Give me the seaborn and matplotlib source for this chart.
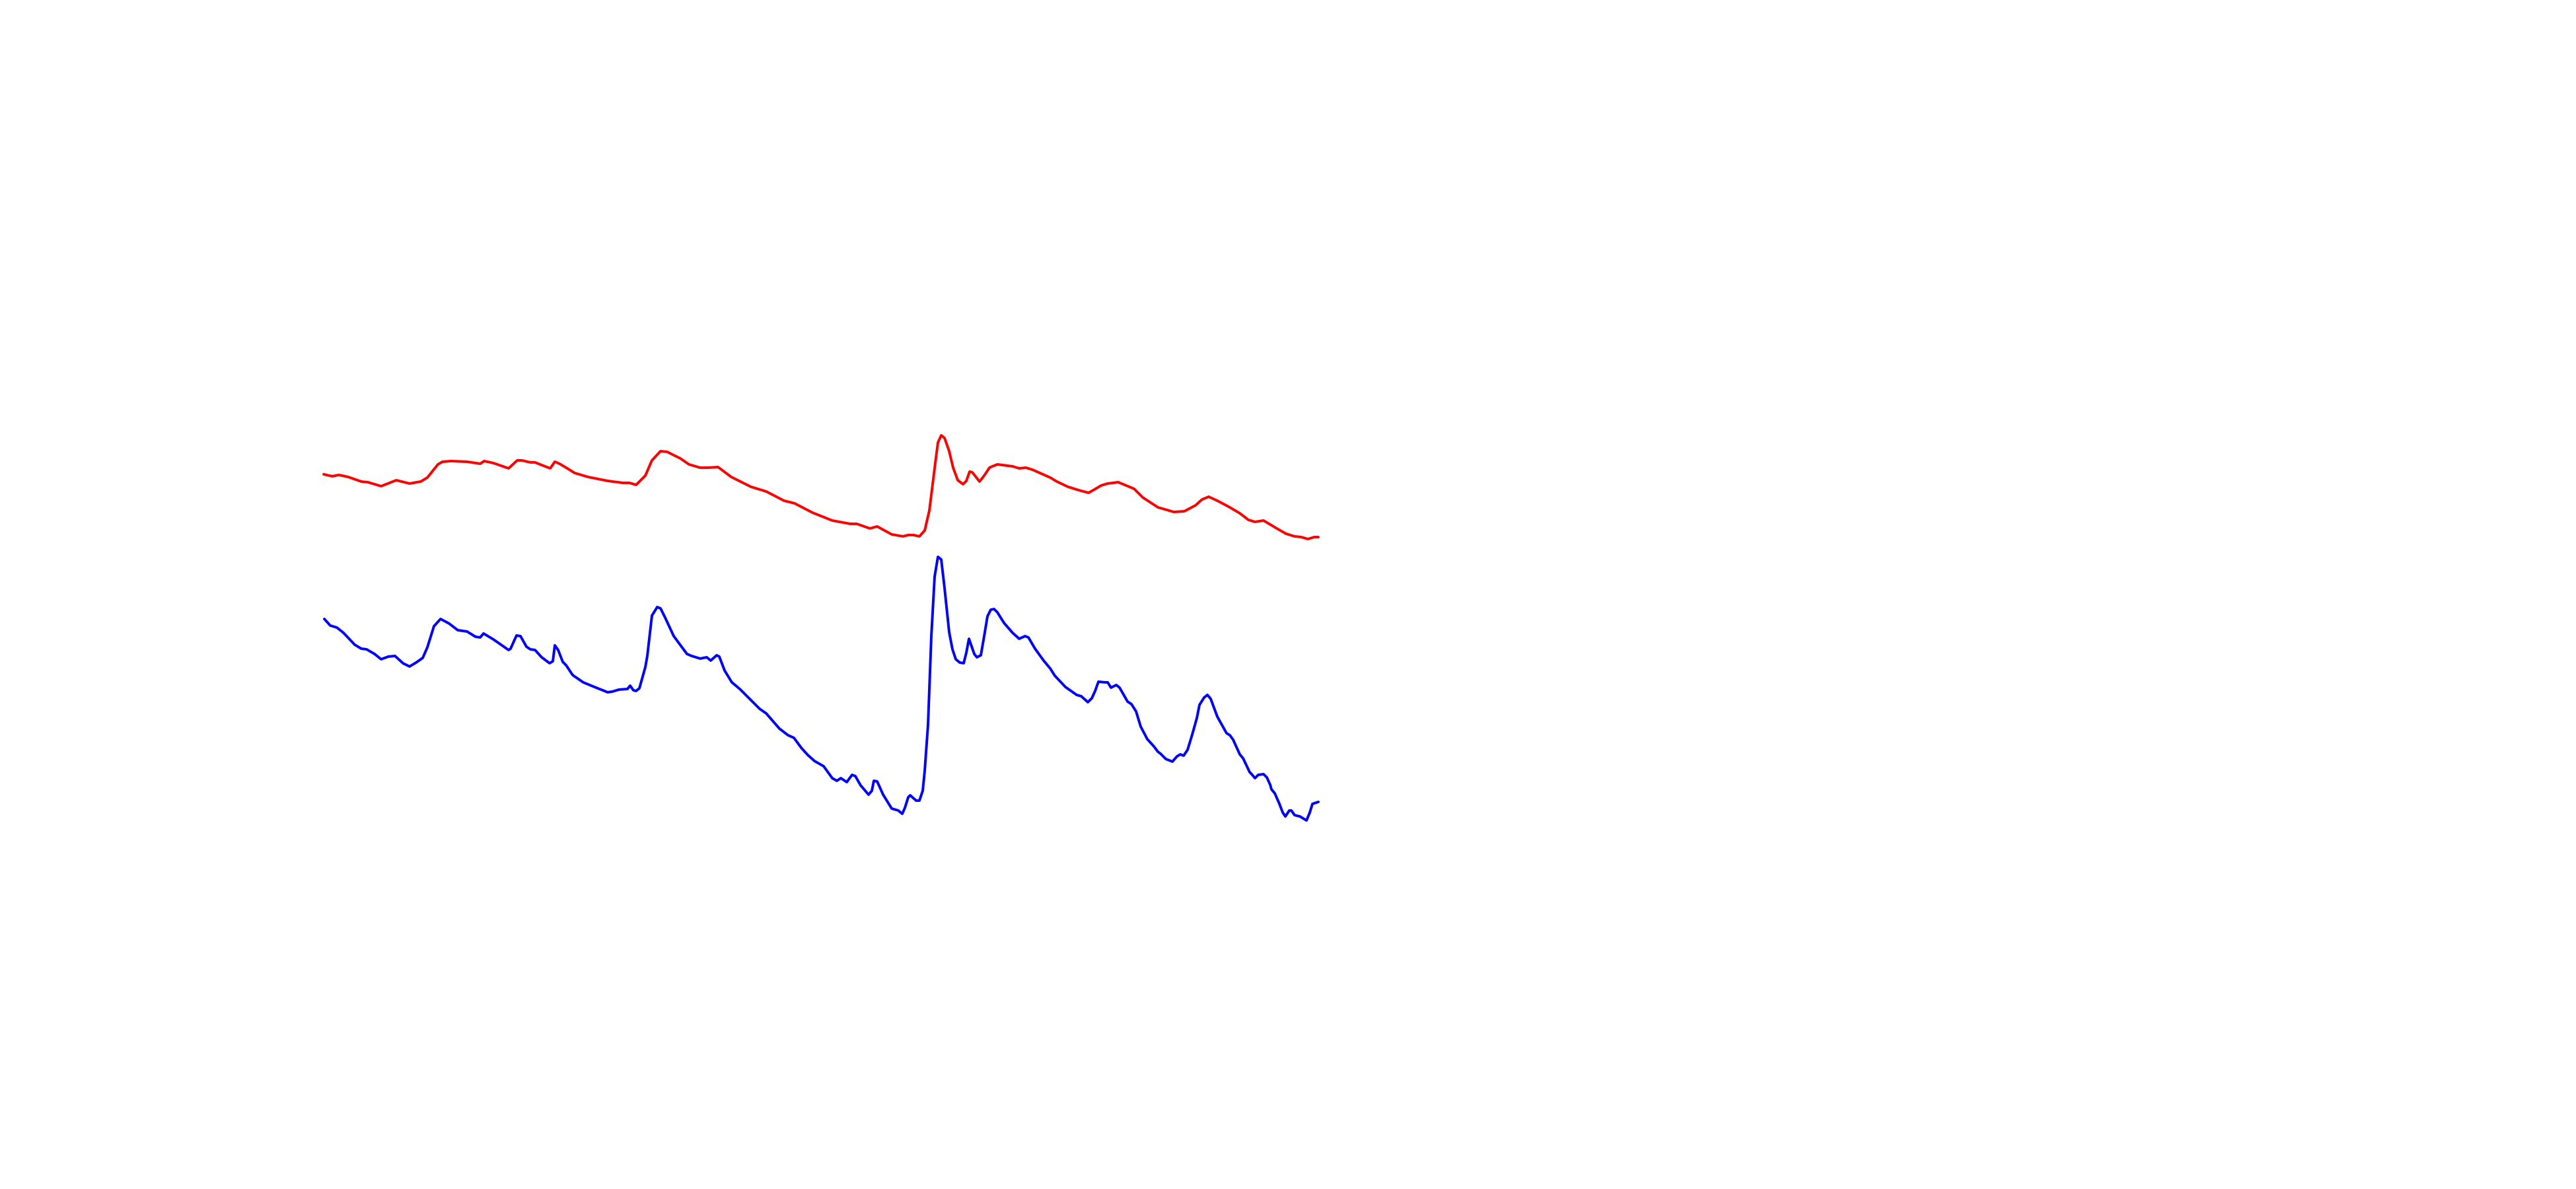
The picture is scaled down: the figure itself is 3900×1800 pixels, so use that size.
import matplotlib
matplotlib.use("Agg")
import matplotlib.pyplot as plt
import seaborn as sns
import pandas as pd

# Red trace: sample positions and amplitudes
red_t = [0, 13, 23, 37, 57, 67, 87, 110, 130, 147, 157, 173, 180, 193, 217, 237, 243, 257,
         280, 293, 300, 313, 320, 330, 343, 350, 357, 367, 380, 400, 430, 453, 463, 473, 487,
         497, 510, 520, 540, 553, 570, 583, 597, 617, 647, 670, 697, 713, 740, 770, 797, 807,
         827, 838, 860, 877, 885, 893, 902, 910, 917, 927, 930, 935, 940, 947, 953, 960, 968,
         973, 978, 982, 993, 1000, 1008, 1010, 1020, 1043, 1053, 1063, 1073, 1100, 1110, 1127,
         1143, 1158, 1167, 1177, 1187, 1203, 1227, 1240, 1263, 1287, 1303, 1320, 1330, 1340,
         1353, 1370, 1387, 1400, 1410, 1423, 1443, 1457, 1470, 1480, 1490, 1500, 1506]
red_v = [582, 579, 581, 578, 571, 570, 564, 573, 568, 571, 577, 597, 601, 602, 601, 598, 602, 599,
         591, 603, 603, 600, 600, 596, 591, 601, 598, 592, 584, 578, 572, 569, 569, 566, 580,
         603, 617, 616, 606, 597, 592, 592, 593, 578, 563, 556, 542, 538, 524, 512, 507, 507,
         500, 503, 491, 488, 490, 490, 488, 497, 527, 607, 630, 641, 637, 617, 592, 573, 567,
         572, 586, 585, 571, 580, 592, 593, 597, 594, 591, 592, 589, 577, 571, 563,
         558, 554, 559, 565, 568, 570, 560, 547, 532, 525, 526, 535, 544, 548,
         542, 533, 523, 513, 510, 512, 500, 492, 488, 487, 484, 487, 487]

# Blue trace: sample positions and amplitudes
blue_t = [1, 10, 20, 30, 47, 57, 65, 77, 87, 98, 108, 120, 130, 140, 150, 157, 167, 177, 190,
          203, 217, 230, 237, 242, 257, 280, 283, 292, 298, 307, 313, 320, 330, 342, 347, 350,
          355, 362, 367, 377, 393, 410, 430, 437, 447, 460, 464, 469, 473, 478, 487, 490, 497,
          505, 510, 517, 530, 550, 557, 570, 580, 586, 595, 599, 607, 618, 630, 643, 660, 670,
          690, 703, 712, 723, 733, 743, 757, 770, 777, 783, 792, 800, 805, 813, 825, 830, 833,
          838, 847, 860, 870, 876, 880, 885, 888, 897, 902, 907, 910, 915, 920, 925, 930, 935,
          940, 947, 952, 957, 963, 969, 973, 977, 985, 989, 995, 1000, 1005, 1010, 1015, 1020,
          1030, 1043, 1053, 1062, 1067, 1077, 1090, 1100, 1107, 1123, 1140, 1147, 1157, 1163,
          1168, 1173, 1183, 1187, 1192, 1200, 1205, 1217, 1223, 1230, 1237, 1247, 1257, 1263,
          1267, 1275, 1285, 1292, 1297, 1302, 1308, 1315, 1322, 1326, 1333, 1338, 1343, 1353,
          1367, 1372, 1377, 1387, 1392, 1402, 1405, 1410, 1415, 1423, 1428, 1433, 1435, 1440,
          1447, 1452, 1456, 1462, 1465, 1470, 1478, 1488, 1493, 1497, 1506]
blue_v = [363, 353, 350, 342, 324, 318, 317, 310, 302, 306, 307, 296, 291, 297, 304, 320, 352, 363, 356,
          346, 344, 336, 335, 341, 332, 316, 318, 338, 337, 321, 317, 316, 305, 296, 299, 323,
          316, 298, 293, 278, 267, 260, 252, 253, 256, 257, 262, 255, 254, 258, 290, 307, 368,
          381, 379, 365, 337, 310, 307, 303, 305, 300, 308, 306, 285, 267, 257, 244, 227, 220,
          197, 187, 183, 168, 157, 148, 140, 122, 118, 122, 116, 127, 125, 111, 97, 103, 118,
          117, 97, 76, 73, 68, 77, 93, 96, 88, 88, 103, 133, 203, 337, 427, 457, 453,
          410, 343, 317, 302, 297, 296, 312, 333, 310, 305, 308, 337, 367, 377, 378, 373,
          357, 342, 333, 337, 335, 318, 300, 288, 277, 260, 248, 246, 237, 243,
          254, 268, 267, 267, 259, 263, 259, 238, 234, 223, 200, 181, 170, 162,
          159, 151, 147, 155, 158, 156, 165, 188, 213, 233, 244, 248, 242, 215,
          190, 187, 180, 158, 152, 131, 128, 122, 127, 128, 123, 112, 105, 99,
          83, 70, 64, 73, 73, 66, 64, 58, 70, 83, 86]

red_df = pd.DataFrame({"t": red_t, "v": red_v})
blue_df = pd.DataFrame({"t": blue_t, "v": blue_v})

sns.set_theme(style="white")
fig = plt.figure(figsize=(13, 6), dpi=300)
ax = fig.add_axes([0, 0, 1, 1])
sns.lineplot(data=red_df, x="t", y="v", ax=ax, color="#ff0000", linewidth=0.95,
             estimator=None, sort=False)
sns.lineplot(data=blue_df, x="t", y="v", ax=ax, color="#0000ff", linewidth=0.95,
             estimator=None, sort=False)
ax.set_xlim(-490, 3410)
ax.set_ylim(-500, 1300)
ax.set_axis_off()
fig.savefig("out.png", dpi=300, facecolor="white")
